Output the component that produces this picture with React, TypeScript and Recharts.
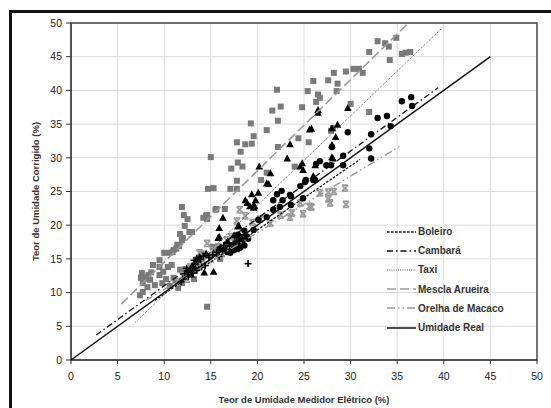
import React from 'react';
import { ScatterChart, Scatter, XAxis, YAxis, CartesianGrid, ReferenceArea, Legend } from 'recharts';

const axisTicks = [0, 5, 10, 15, 20, 25, 30, 35, 40, 45, 50];
const xTitle = 'Teor de Umidade Medidor Elétrico (%)';
const yTitle = 'Teor de Umidade Corrigido (%)';

const boleiroPts = [
  [12.2, 12.8], [12.5, 13.2], [12.8, 13.0], [13.0, 13.6], [13.3, 14.2], [13.6, 14.6], [13.9, 14.9], [14.2, 15.4],
  [12.6, 12.4], [13.1, 12.9], [14.4, 14.0], [14.8, 15.2], [15.2, 15.6], [15.6, 16.0], [16.1, 16.6], [16.6, 16.4],
  [17.0, 16.9], [17.4, 17.2], [17.8, 17.6], [18.1, 17.3], [18.3, 18.1], [18.6, 18.6], [19.0, 14.3], [16.9, 17.4],
  [17.3, 16.2], [18.0, 16.5], [12.0, 12.0], [11.8, 11.6], [13.5, 13.3], [14.0, 13.8], [12.4, 13.6], [13.2, 14.8],
  [17.6, 18.2], [18.4, 16.9], [15.9, 15.4], [16.4, 17.0],
];

const cambaraPts = [
  [35.5, 38.4], [36.5, 39.0], [36.6, 37.7], [32.9, 35.9], [33.9, 36.2], [34.3, 34.7], [32.2, 33.5], [32.0, 31.4],
  [32.2, 29.9], [29.7, 33.8], [29.2, 30.3], [29.2, 28.9], [28.0, 31.6], [26.7, 29.5], [27.4, 28.9], [27.9, 28.9],
  [26.3, 29.1], [26.0, 26.7], [25.2, 26.7], [24.6, 25.8], [23.6, 24.3], [22.6, 25.1], [22.1, 24.6], [23.5, 24.5],
  [21.7, 23.7], [22.7, 23.7], [25.1, 26.4], [26.2, 26.7], [24.9, 24.0], [23.6, 23.0], [22.4, 22.7], [17.4, 16.3],
  [18.1, 16.6], [17.1, 15.9], [18.9, 18.3], [19.6, 19.3], [20.1, 20.8], [21.0, 21.2], [21.7, 22.3], [16.5, 16.2],
  [17.8, 17.2], [18.4, 17.8], [16.0, 16.5], [18.6, 19.2], [19.0, 18.0], [17.6, 16.4], [16.8, 16.0], [18.2, 17.6],
  [17.9, 18.6], [18.6, 17.0],
];

const taxiPts = [
  [20.2, 28.7], [21.4, 27.7], [21.0, 26.2], [21.2, 26.1], [20.1, 24.8], [19.4, 24.6], [19.8, 23.7], [18.7, 23.7],
  [19.2, 22.8], [19.6, 22.6], [19.7, 22.8], [16.3, 21.1], [15.9, 19.6], [15.9, 18.3], [18.0, 19.9], [23.5, 32.0],
  [23.2, 29.9], [25.6, 34.2], [26.5, 36.7], [24.8, 29.2], [24.9, 28.2], [26.0, 27.0], [24.6, 28.7], [26.5, 37.1],
  [29.7, 37.4], [28.0, 34.4], [28.6, 34.9], [28.4, 33.1], [25.8, 34.3], [28.0, 31.9], [28.0, 30.1], [26.2, 28.9],
  [26.0, 27.3], [28.1, 29.9], [18.9, 23.3], [19.6, 23.0], [15.8, 18.1], [17.9, 19.8], [15.3, 13.1], [12.6, 13.1],
  [13.5, 15.1], [13.8, 15.3], [14.3, 13.0], [13.0, 14.0], [14.5, 15.8], [12.9, 12.7], [16.8, 17.6], [17.5, 18.5],
  [13.3, 13.6],
];

const mesclaPts = [
  [15.0, 30.1], [14.7, 25.4], [15.3, 25.5], [17.1, 25.4], [17.8, 25.4], [17.8, 26.6], [17.2, 28.4], [17.9, 29.3],
  [18.4, 28.7], [18.2, 30.9], [17.8, 32.3], [18.7, 32.0], [19.4, 32.1], [19.3, 35.1], [19.6, 33.2], [21.0, 34.1],
  [21.6, 37.0], [22.1, 40.1], [22.2, 35.5], [22.2, 31.6], [22.5, 37.6], [20.4, 26.7], [21.0, 27.8], [26.0, 41.4],
  [27.6, 41.5], [28.2, 42.6], [28.6, 41.0], [29.5, 42.8], [30.3, 43.2], [30.9, 43.2], [31.3, 42.6], [25.4, 39.9],
  [26.5, 39.4], [26.7, 38.9], [26.3, 38.3], [28.5, 39.9], [24.8, 37.5], [24.4, 32.9], [25.5, 32.3], [24.0, 28.7],
  [27.9, 34.0], [28.1, 34.4], [30.0, 38.0], [32.0, 36.8], [32.0, 45.7], [32.9, 47.3], [33.7, 47.0], [34.1, 46.5],
  [34.9, 47.8], [34.2, 44.5], [35.5, 45.4], [35.9, 45.6], [36.4, 45.7], [15.6, 22.4], [16.5, 22.4], [14.5, 21.4],
  [14.2, 21.1], [14.6, 21.5], [11.9, 22.7], [12.1, 21.5], [12.5, 20.9], [12.2, 19.9], [12.7, 19.0], [13.0, 19.0],
  [11.7, 18.7], [12.0, 18.1], [11.9, 17.8], [11.6, 16.9], [11.4, 17.1], [11.0, 16.3], [10.6, 15.9], [11.3, 16.5],
  [14.6, 20.9], [15.5, 22.3], [8.8, 14.1], [9.5, 13.8], [10.4, 13.8], [7.6, 12.9], [7.9, 12.3], [8.5, 11.9],
  [7.7, 11.4], [8.2, 10.8], [7.7, 10.1], [9.5, 12.6], [9.0, 11.1], [9.8, 11.4], [9.5, 14.8], [7.4, 9.6],
  [9.9, 13.1], [10.8, 14.1], [11.0, 12.2], [11.7, 13.4], [11.9, 11.4], [11.5, 10.7], [14.6, 7.9], [8.0, 12.0],
  [8.3, 12.6], [7.5, 12.2], [8.6, 13.0], [10.2, 12.0], [10.6, 11.0], [11.2, 11.8], [10.0, 15.9], [10.9, 16.0],
  [12.3, 13.5], [13.5, 14.2], [14.0, 15.8], [15.2, 16.8], [16.0, 15.0], [13.2, 12.0],
];

const orelhaPts = [
  [17.8, 20.6], [18.7, 21.4], [21.4, 20.3], [22.5, 21.5], [23.7, 21.8], [24.6, 23.3], [25.8, 22.7], [26.7, 24.8],
  [27.6, 24.9], [25.6, 22.8], [24.9, 21.7], [27.8, 23.3], [29.5, 23.1], [23.5, 21.2], [28.2, 25.0], [29.4, 25.5],
  [27.6, 23.9], [14.6, 17.3], [13.8, 15.9], [15.3, 16.3], [16.7, 17.8], [18.1, 22.3], [12.0, 12.5], [12.8, 13.8],
  [13.5, 14.0], [14.2, 14.8], [15.0, 15.0], [15.8, 16.8], [16.2, 15.8], [12.4, 12.0], [11.5, 11.6], [19.5, 20.4],
  [20.3, 20.9], [17.2, 18.3],
];

// trend line endpoints
const boleiroLine = [[9.0, 8.85], [31.0, 29.75]];
const cambaraLine = [[2.7, 3.7], [39.4, 40.4]];
const taxiLine = [[6.9, 5.6], [39.7, 49.1]];
const mesclaLine = [[5.4, 8.3], [36.2, 50.0]];
const orelhaLine = [[8.0, 8.8], [35.5, 31.9]];
const realLine = [[0, 0], [45, 45]];

const trendNames = ['Boleiro', 'Cambará', 'Taxi', 'Mescla Arueira', 'Orelha de Macaco', 'Umidade Real'];

const toPts = (a: number[][]) => a.map(([x, y]) => ({ x, y }));

const trendStyles = [
  { stroke: '#111', strokeWidth: 1.3, dash: '2.5 1.5' },
  { stroke: '#111', strokeWidth: 1.3, dash: '6 3 1.5 3' },
  { stroke: '#555', strokeWidth: 1, dash: '1 1.2' },
  { stroke: '#9a9a9a', strokeWidth: 1.6, dash: '9 4' },
  { stroke: '#9a9a9a', strokeWidth: 1.4, dash: '8 3 1.5 3 1.5 3' },
  { stroke: '#111', strokeWidth: 1.5, dash: undefined as string | undefined },
];
const trendData = [boleiroLine, cambaraLine, taxiLine, mesclaLine, orelhaLine, realLine];

const font = '"Liberation Sans", Arial, sans-serif';

const Empty = () => <g />;
const SquareShape = (p: any) => <rect x={p.cx - 3} y={p.cy - 3} width={6} height={6} fill="#7a7a7a" />;
const TriShape = (p: any) => (
  <path d={`M${p.cx},${p.cy - 4} L${p.cx + 3.8},${p.cy + 3} L${p.cx - 3.8},${p.cy + 3} Z`} fill="#000" />
);
const CircleShape = (p: any) => <circle cx={p.cx} cy={p.cy} r={3.2} fill="#000" />;
const PlusShape = (p: any) => (
  <g stroke="#000" strokeWidth={1.6}>
    <line x1={p.cx - 3.5} y1={p.cy} x2={p.cx + 3.5} y2={p.cy} />
    <line x1={p.cx} y1={p.cy - 3.5} x2={p.cx} y2={p.cy + 3.5} />
  </g>
);
const XShape = (p: any) => (
  <g stroke="#9c9c9c" strokeWidth={1.8}>
    <line x1={p.cx - 3} y1={p.cy - 3} x2={p.cx + 3} y2={p.cy + 3} />
    <line x1={p.cx - 3} y1={p.cy + 3} x2={p.cx + 3} y2={p.cy - 3} />
    <line x1={p.cx - 3} y1={p.cy - 3} x2={p.cx + 3} y2={p.cy - 3} />
    <line x1={p.cx - 3} y1={p.cy + 3} x2={p.cx + 3} y2={p.cy + 3} />
  </g>
);

const LegendBox = () => (
  <div style={{ fontFamily: font, fontSize: 10, fontWeight: 'bold', color: '#333' }}>
    {trendNames.map((n, i) => (
      <div key={n} style={{ display: 'flex', alignItems: 'center', height: 19.2 }}>
        <svg width={29} height={6} style={{ display: 'block' }}>
          <line x1={0} y1={3} x2={29} y2={3} stroke={trendStyles[i].stroke}
            strokeWidth={trendStyles[i].strokeWidth} strokeDasharray={trendStyles[i].dash} />
        </svg>
        <span style={{ marginLeft: 2, whiteSpace: 'nowrap' }}>{n}</span>
      </div>
    ))}
  </div>
);

export default function App() {
  return (
    <div style={{ position: 'absolute', left: 0, top: 0, width: 551, height: 408, overflow: 'hidden', background: '#fff' }}>
      <ScatterChart width={551} height={408} margin={{ top: 23, right: 14, bottom: 0, left: 0 }}>
        <CartesianGrid stroke="#dcdcdc" strokeWidth={1} />
        <XAxis
          dataKey="x" type="number" domain={[0, 50]} ticks={axisTicks} height={48}
          tickSize={4} tickMargin={9} stroke="#333" interval={0}
          tick={{ fontFamily: font, fontSize: 10.5, fill: '#222' }}
          label={{ value: xTitle, position: 'insideBottom', offset: 5, style: { fontFamily: font, fontSize: 9.5, fontWeight: 'bold', fill: '#333' } }}
        />
        <YAxis
          dataKey="y" type="number" domain={[0, 50]} ticks={axisTicks} width={71}
          tickSize={5} tickMargin={4} stroke="#333" interval={0}
          tick={{ fontFamily: font, fontSize: 10.5, fill: '#222' }}
          label={{ value: yTitle, angle: -90, position: 'insideLeft', offset: 36, style: { fontFamily: font, fontSize: 9.5, fontWeight: 'bold', fill: '#333', textAnchor: 'middle' } }}
        />
        <ReferenceArea x1={0} x2={50} y1={0} y2={50} fill="none" stroke="#444" strokeWidth={1.4} fillOpacity={0} />
        <Scatter name="pts-mescla" data={toPts(mesclaPts)} shape={SquareShape} legendType="none" isAnimationActive={false} />
        <Scatter name="pts-orelha" data={toPts(orelhaPts)} shape={XShape} legendType="none" isAnimationActive={false} />
        <Scatter name="pts-boleiro" data={toPts(boleiroPts)} shape={PlusShape} legendType="none" isAnimationActive={false} />
        <Scatter name="pts-taxi" data={toPts(taxiPts)} shape={TriShape} legendType="none" isAnimationActive={false} />
        <Scatter name="pts-cambara" data={toPts(cambaraPts)} shape={CircleShape} legendType="none" isAnimationActive={false} />
        {trendData.map((d, i) => (
          <Scatter
            key={trendNames[i]}
            name={trendNames[i]}
            data={toPts(d)}
            shape={Empty}
            fill={trendStyles[i].stroke}
            line={{ stroke: trendStyles[i].stroke, strokeWidth: trendStyles[i].strokeWidth, strokeDasharray: trendStyles[i].dash }}
            isAnimationActive={false}
          />
        ))}
        <Legend
          layout="horizontal" verticalAlign="middle" align="center"
          content={<LegendBox />}
          wrapperStyle={{ left: 387, top: 222, width: 150 }}
        />
      </ScatterChart>
      <div style={{ position: 'absolute', left: 9, top: 10, width: 700, height: 600, borderLeft: '3px solid #111', borderTop: '3px solid #111', pointerEvents: 'none' }} />
    </div>
  );
}
